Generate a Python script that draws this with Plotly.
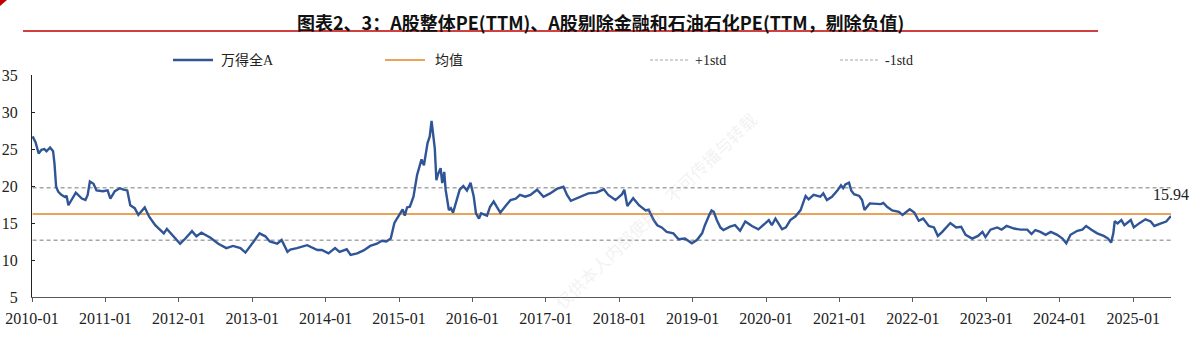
import plotly.graph_objects as go

# ---------------- data ----------------
dates = [
    "2010-01-04","2010-01-12","2010-01-19","2010-02-03","2010-02-17","2010-03-03","2010-03-14","2010-04-01",
    "2010-04-16","2010-04-23","2010-05-01","2010-05-12","2010-05-27","2010-06-14","2010-06-22","2010-07-01",
    "2010-07-16","2010-08-07","2010-09-06","2010-09-24","2010-10-05","2010-10-16","2010-11-03","2010-11-18",
    "2010-12-20","2011-01-12","2011-01-26","2011-02-17","2011-03-14","2011-04-01","2011-04-20","2011-05-05",
    "2011-05-27","2011-06-14","2011-07-16","2011-08-07","2011-09-06","2011-10-01","2011-10-19","2011-11-03",
    "2011-12-06","2012-01-08","2012-02-03","2012-03-07","2012-03-29","2012-04-23","2012-06-07","2012-07-16",
    "2012-08-25","2012-09-27","2012-11-03","2012-11-28","2013-01-08","2013-02-06","2013-03-07","2013-03-29",
    "2013-05-05","2013-05-27","2013-06-25","2013-07-09","2013-08-11","2013-09-13","2013-10-01","2013-11-21",
    "2013-12-13","2014-01-15","2014-02-17","2014-03-11","2014-04-16","2014-05-05","2014-06-07","2014-07-09",
    "2014-08-11","2014-09-13","2014-10-08","2014-10-30","2014-11-21","2014-12-09","2015-01-08","2015-01-19",
    "2015-01-30","2015-02-10","2015-02-24","2015-03-14","2015-04-01","2015-04-23","2015-05-05","2015-05-23",
    "2015-06-03","2015-06-12","2015-06-28","2015-07-06","2015-07-13","2015-07-27","2015-08-04","2015-08-14",
    "2015-08-21","2015-09-06","2015-09-16","2015-09-27","2015-10-15","2015-10-30","2015-11-17","2015-12-05",
    "2015-12-23","2016-01-08","2016-01-19","2016-02-03","2016-02-14","2016-03-14","2016-03-29","2016-04-16",
    "2016-05-01","2016-05-19","2016-06-14","2016-07-09","2016-08-04","2016-08-25","2016-09-20","2016-10-16",
    "2016-11-18","2016-12-20","2017-01-22","2017-02-24","2017-03-29","2017-04-16","2017-05-05","2017-06-03",
    "2017-06-21","2017-07-31","2017-09-09","2017-10-16","2017-11-07","2017-12-13","2018-01-15","2018-01-26",
    "2018-02-10","2018-03-11","2018-04-09","2018-05-12","2018-05-27","2018-06-21","2018-07-09","2018-07-31",
    "2018-08-25","2018-09-27","2018-10-23","2018-11-24","2018-12-28","2019-01-22","2019-02-17","2019-03-03",
    "2019-03-25","2019-04-05","2019-04-16","2019-05-01","2019-05-19","2019-06-03","2019-07-06","2019-07-31",
    "2019-08-25","2019-09-20","2019-10-23","2019-11-24","2019-12-28","2020-01-15","2020-01-30","2020-02-17",
    "2020-03-03","2020-03-21","2020-04-09","2020-05-01","2020-05-27","2020-06-21","2020-07-06","2020-07-16",
    "2020-07-31","2020-08-25","2020-09-27","2020-10-12","2020-10-30","2020-11-24","2020-12-20","2021-01-08",
    "2021-01-19","2021-01-30","2021-02-17","2021-02-28","2021-03-14","2021-04-09","2021-04-23","2021-05-05",
    "2021-05-31","2021-06-25","2021-07-24","2021-08-07","2021-08-25","2021-09-20","2021-10-23","2021-11-10",
    "2021-12-16","2022-01-08","2022-01-30","2022-02-21","2022-03-21","2022-04-16","2022-05-05","2022-05-27",
    "2022-07-06","2022-08-04","2022-08-29","2022-09-20","2022-10-23","2022-11-21","2022-12-13","2022-12-28",
    "2023-01-22","2023-02-24","2023-03-18","2023-04-12","2023-05-19","2023-06-21","2023-07-24","2023-08-14",
    "2023-09-02","2023-09-27","2023-10-23","2023-11-18","2023-12-20","2024-01-15","2024-02-03","2024-02-24",
    "2024-03-29","2024-04-23","2024-05-12","2024-06-07","2024-07-06","2024-08-07","2024-08-29","2024-09-13",
    "2024-09-24","2024-10-01","2024-10-15","2024-11-03","2024-11-18","2024-12-20","2025-01-04","2025-01-30",
    "2025-03-03","2025-03-29","2025-04-16","2025-05-19","2025-06-14","2025-07-08",
]
pe_wind_all_a = [
    26.7, 26.2, 25.9, 24.4, 24.9, 25.0, 24.7, 25.2,
    24.7, 23.0, 19.9, 19.2, 18.8, 18.5, 18.7, 17.4,
    18.1, 19.1, 18.3, 18.1, 18.8, 20.6, 20.3, 19.4,
    19.3, 19.4, 18.3, 19.3, 19.7, 19.5, 19.4, 17.4,
    17.0, 16.1, 17.1, 15.85, 14.7, 14.05, 13.6, 14.2,
    13.15, 12.2, 12.9, 13.9, 13.2, 13.7, 13.0, 12.2,
    11.6, 11.9, 11.6, 11.0, 12.5, 13.6, 13.2, 12.5,
    12.2, 12.7, 11.1, 11.4, 11.6, 11.9, 12.0, 11.35,
    11.35, 10.9, 11.6, 11.1, 11.45, 10.7, 10.9, 11.3,
    11.9, 12.2, 12.6, 12.5, 12.9, 15.0, 16.3, 16.85,
    16.0, 17.1, 17.2, 18.55, 21.5, 23.6, 22.8, 25.8,
    26.7, 28.8, 25.1, 20.8, 21.5, 22.4, 20.4, 21.9,
    19.5, 16.75, 17.0, 16.4, 18.1, 19.5, 20.0, 19.4,
    20.45, 18.55, 16.3, 15.6, 16.3, 16.0, 17.2, 17.9,
    17.2, 16.4, 17.3, 18.1, 18.3, 18.8, 18.55, 18.8,
    19.5, 18.55, 19.0, 19.6, 19.9, 18.8, 18.0, 18.3,
    18.5, 19.0, 19.1, 19.55, 18.8, 18.1, 18.9, 19.5,
    17.3, 18.35, 17.4, 16.7, 16.8, 15.4, 14.7, 14.4,
    13.8, 13.6, 12.8, 12.9, 12.25, 12.7, 13.6, 14.7,
    16.1, 16.7, 16.5, 15.4, 14.4, 14.05, 14.5, 14.7,
    13.95, 15.2, 14.6, 14.15, 14.95, 15.4, 14.7, 15.6,
    14.95, 14.15, 14.4, 15.4, 15.9, 16.75, 17.9, 18.65,
    18.2, 18.8, 18.55, 19.0, 18.1, 18.55, 19.35, 20.1,
    19.7, 20.2, 20.45, 19.4, 18.9, 18.65, 18.1, 16.75,
    17.65, 17.65, 17.55, 17.7, 17.2, 16.7, 16.5, 16.1,
    16.85, 16.4, 15.3, 15.6, 14.6, 14.4, 13.25, 13.8,
    15.0, 14.4, 14.5, 13.4, 12.9, 13.25, 13.8, 13.1,
    14.1, 14.4, 14.1, 14.6, 14.25, 14.1, 14.1, 13.5,
    14.05, 13.8, 13.4, 13.8, 13.4, 12.9, 12.25, 13.4,
    13.95, 14.1, 14.6, 14.1, 13.6, 13.25, 12.9, 12.35,
    13.6, 15.25, 14.95, 15.4, 14.7, 15.4, 14.4, 14.95,
    15.5, 15.2, 14.6, 14.95, 15.2, 15.94,
]
mean_value = 16.2
plus_1std = 19.77
minus_1std = 12.66
last_label = "15.94"

series_names = ["万得全A", "均值", "+1std", "-1std"]
year_ticks = [f"{y}-01-01" for y in range(2010, 2026)]
year_labels = [f"{y}-01" for y in range(2010, 2026)]
x_start, x_end = "2010-01-01", "2025-07-08"

title_text = "图表2、3：A股整体PE(TTM)、A股剔除金融和石油石化PE(TTM，剔除负值)"
watermark = "仅供本人内部使用，不可传播与转载"

# ---------------- styles ----------------
BLUE = "#2F5597"
ORANGE = "#E8A55A"
GREY = "#A6A6A6"
RED = "#C00000"
SERIF = "Liberation Serif, Times New Roman, Noto Sans CJK SC, serif"
CJK = "Noto Sans CJK SC, sans-serif"

fig = go.Figure()
span = [dates[0], dates[-1]]
fig.add_trace(go.Scatter(x=span, y=[plus_1std, plus_1std], mode="lines",
                         line=dict(color=GREY, width=1.6, dash="4px,3px"), hoverinfo="skip"))
fig.add_trace(go.Scatter(x=span, y=[minus_1std, minus_1std], mode="lines",
                         line=dict(color=GREY, width=1.6, dash="4px,3px"), hoverinfo="skip"))
fig.add_trace(go.Scatter(x=span, y=[mean_value, mean_value], mode="lines",
                         line=dict(color=ORANGE, width=2), hoverinfo="skip"))
fig.add_trace(go.Scatter(x=dates, y=pe_wind_all_a, mode="lines",
                         line=dict(color=BLUE, width=2.4), name=series_names[0]))

# plot area: x 32..1171, y 75..297 px
L, R, T, B = 32, 1199 - 1171, 75, 338 - 297
PW, PH = 1171 - 32, 297 - 75


def px2x(px):
    return (px - L) / PW


def py2y(py):
    return (297 - py) / PH


shapes = []
annotations = []

# title underline
shapes.append(dict(type="line", xref="paper", yref="paper", x0=px2x(23), x1=px2x(1098),
                   y0=py2y(31), y1=py2y(31), line=dict(color=RED, width=1.6)))
# small red corner mark
shapes.append(dict(type="path", xref="paper", yref="paper",
                   path=f"M {px2x(0)} {py2y(0)} L {px2x(7)} {py2y(0)} L {px2x(0)} {py2y(6)} Z",
                   fillcolor=RED, line=dict(width=0)))

# legend (manual)
legend_items = [
    (173, 213, 219, dict(color=BLUE, width=2.4), series_names[0]),
    (385, 425, 433, dict(color=ORANGE, width=2), series_names[1]),
    (650, 690, 693, dict(color=GREY, width=1.2, dash="3px,2px"), series_names[2]),
    (840, 880, 883, dict(color=GREY, width=1.2, dash="3px,2px"), series_names[3]),
]
for x0, x1, tx, ln, name in legend_items:
    shapes.append(dict(type="line", xref="paper", yref="paper", x0=px2x(x0), x1=px2x(x1),
                       y0=py2y(60), y1=py2y(60), line=ln))
    annotations.append(dict(xref="paper", yref="paper", x=px2x(tx), y=py2y(60), text=name,
                            showarrow=False, xanchor="left", yanchor="middle",
                            font=dict(family=SERIF, size=14, color="#222222")))

# title
annotations.append(dict(xref="paper", yref="paper", x=px2x(600), y=py2y(22), text=f"<b>{title_text}</b>",
                        showarrow=False, xanchor="center", yanchor="middle",
                        font=dict(family=CJK, size=18, color="#111111")))

# last-value label
annotations.append(dict(x=dates[-1], y=pe_wind_all_a[-1], text=last_label, showarrow=False,
                        xanchor="center", yanchor="middle", yshift=22,
                        font=dict(family=SERIF, size=16, color="#222222")))

# watermark
annotations.append(dict(xref="paper", yref="paper", x=px2x(655), y=py2y(210), text=watermark,
                        showarrow=False, textangle=-44,
                        font=dict(family=CJK, size=17, color="rgba(190,190,190,0.2)")))

fig.update_layout(
    width=1199, height=338,
    margin=dict(l=L, r=R, t=T, b=B),
    paper_bgcolor="white", plot_bgcolor="white",
    showlegend=False,
    shapes=shapes, annotations=annotations,
    xaxis=dict(type="date", range=[x_start, x_end], tickvals=year_ticks, ticktext=year_labels,
               automargin=False,
               showgrid=False, zeroline=False, showline=True, linecolor="#595959", linewidth=1.3,
               ticks="outside", ticklen=4, tickcolor="#595959", tickwidth=1.3,
               ticklabelstandoff=3,
               tickfont=dict(family=SERIF, size=16, color="#222222")),
    yaxis=dict(range=[5, 35], dtick=5, tick0=5, showgrid=False, zeroline=False,
               automargin=False,
               showline=True, linecolor="#222222", linewidth=1.3,
               ticks="inside", ticklen=3, tickcolor="#222222",
               ticklabelstandoff=10,
               tickfont=dict(family=SERIF, size=16, color="#222222")),
)

fig.write_html("out.html")
